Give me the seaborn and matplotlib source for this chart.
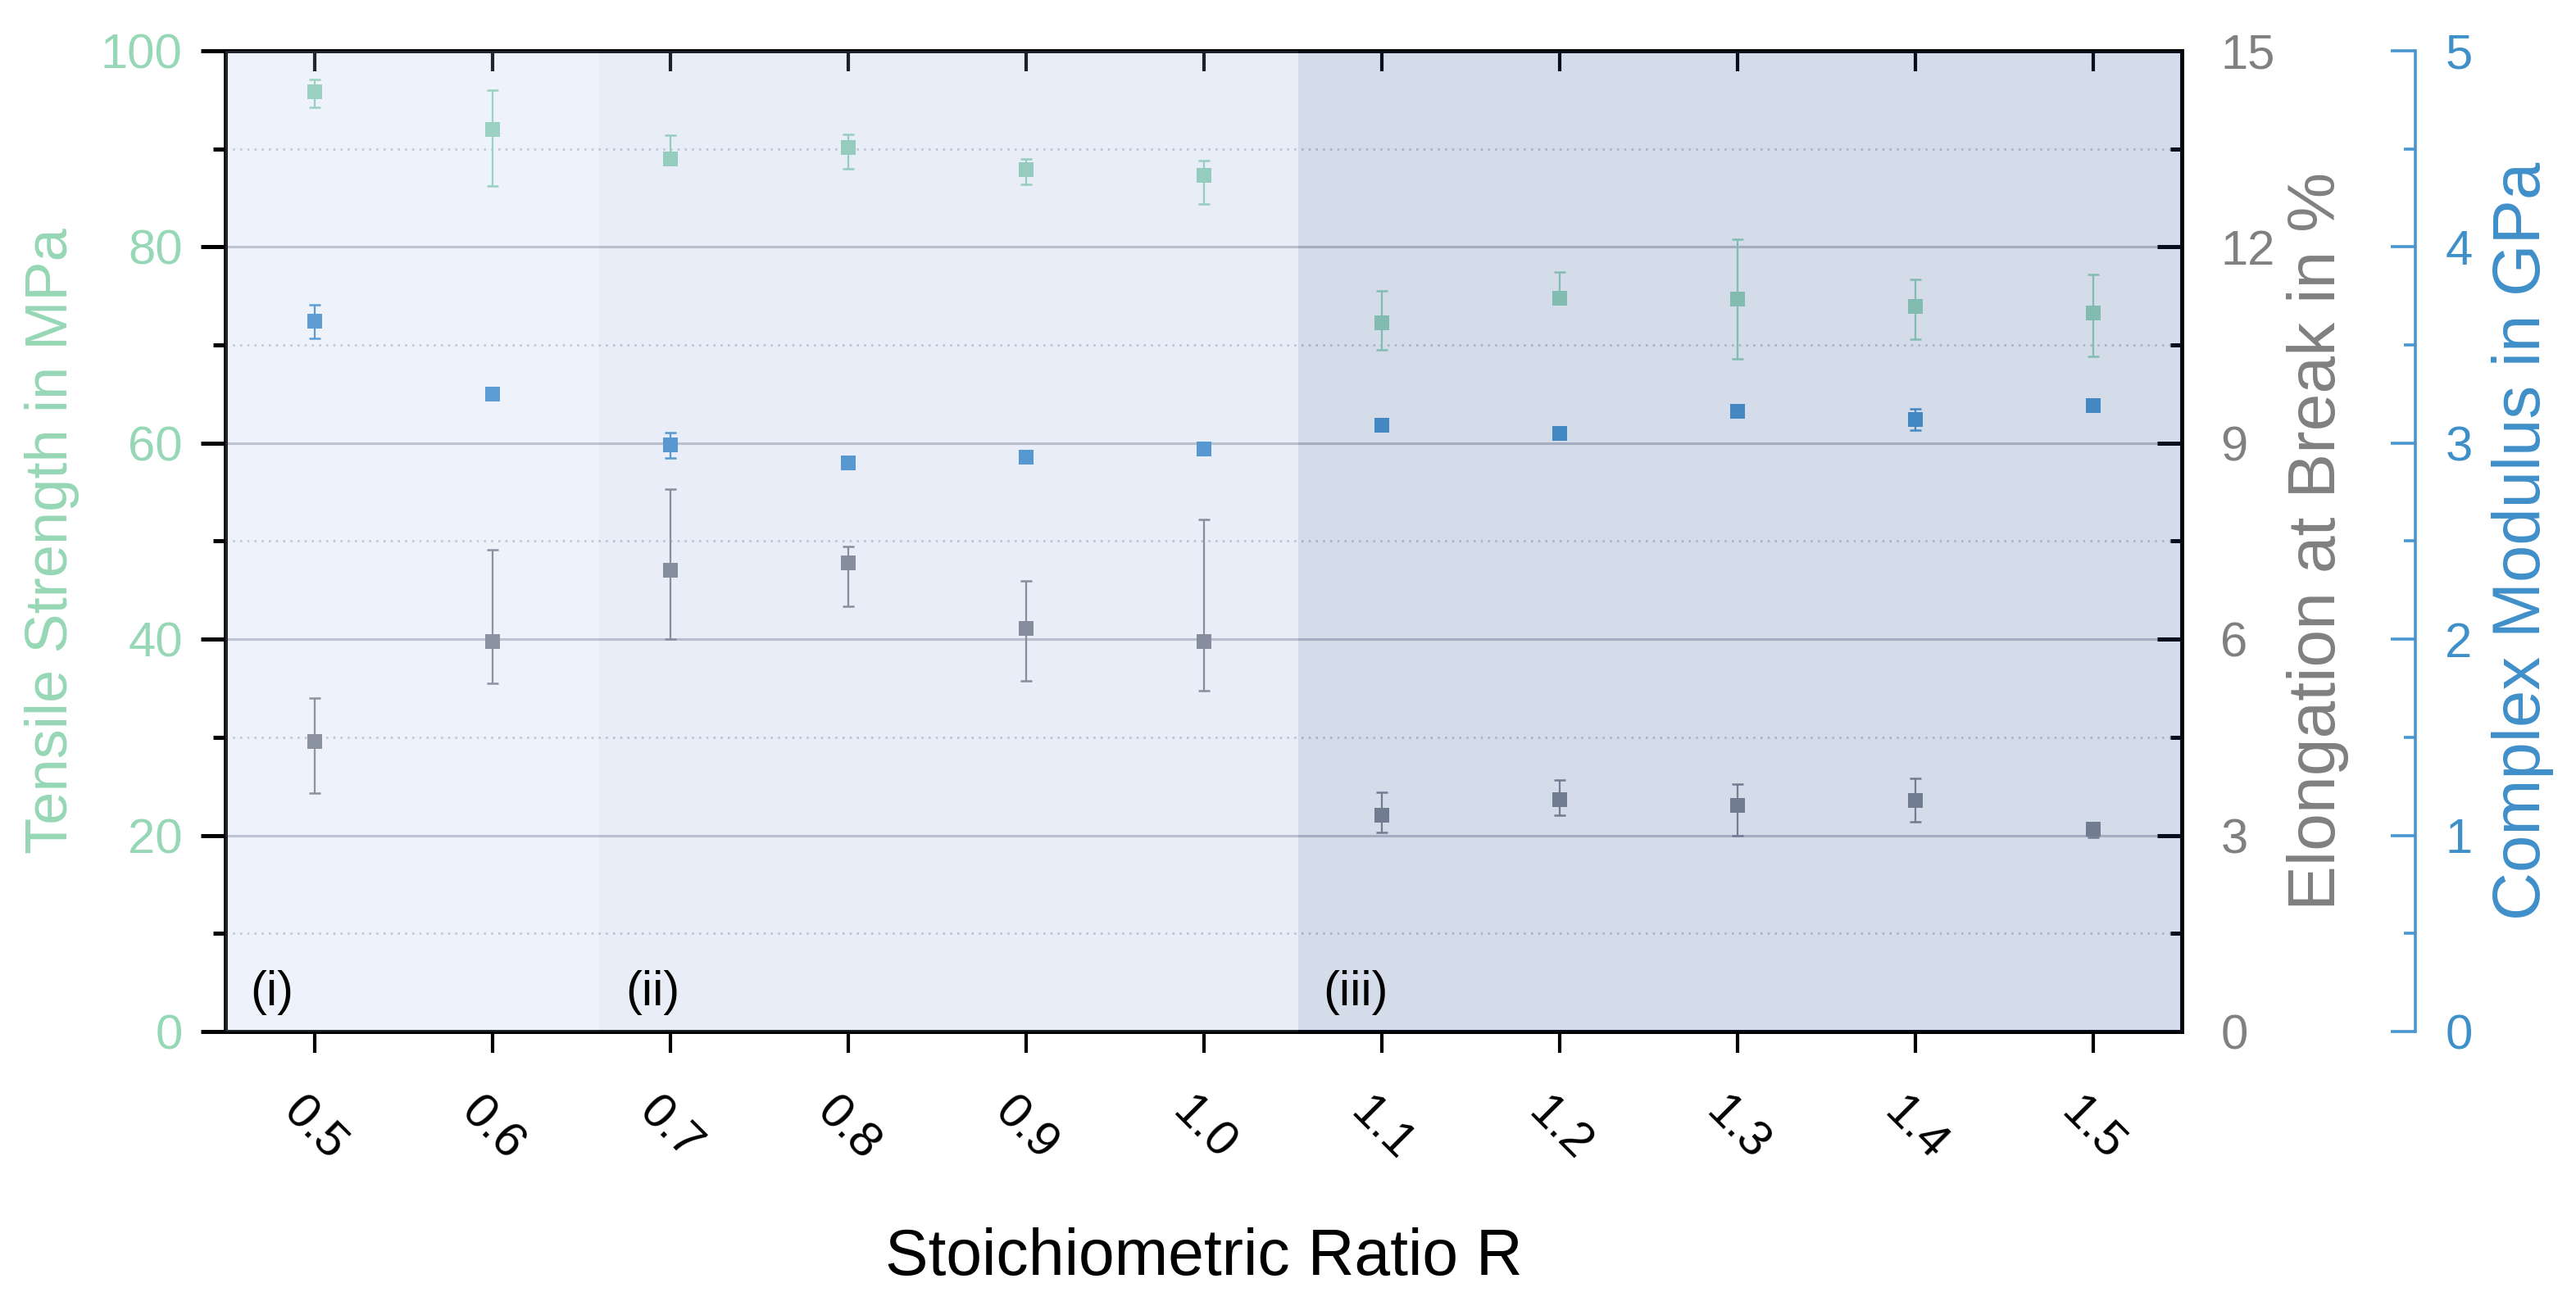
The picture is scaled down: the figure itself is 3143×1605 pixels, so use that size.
import matplotlib
matplotlib.use("Agg")
import matplotlib.pyplot as plt
import matplotlib.transforms as mtransforms
from matplotlib.ticker import MultipleLocator
import numpy as np
import pandas as pd
import seaborn as sns

# ---------------- data ----------------
ratio = [0.5, 0.6, 0.7, 0.8, 0.9, 1.0, 1.1, 1.2, 1.3, 1.4, 1.5]
ratio_labels = ["0.5", "0.6", "0.7", "0.8", "0.9", "1.0", "1.1", "1.2", "1.3", "1.4", "1.5"]

tensile = [95.8, 92.0, 89.0, 90.1, 87.9, 87.3, 72.3, 74.8, 74.7, 73.9, 73.3]
tensile_err_lo = [1.6, 5.8, 0.6, 2.1, 1.5, 2.9, 2.8, 0.5, 6.1, 3.3, 4.5]
tensile_err_hi = [1.3, 4.0, 2.4, 1.4, 1.1, 1.5, 3.2, 2.6, 6.1, 2.8, 3.9]

elongation = [4.44, 5.96, 7.05, 7.17, 6.17, 5.97, 3.31, 3.55, 3.46, 3.53, 3.10]
elong_err_lo = [0.79, 0.63, 1.05, 0.67, 0.81, 0.76, 0.26, 0.24, 0.46, 0.32, 0.13]
elong_err_hi = [0.66, 1.41, 1.25, 0.25, 0.72, 1.86, 0.35, 0.30, 0.32, 0.34, 0.0]

modulus = [3.62, 3.25, 2.99, 2.90, 2.93, 2.97, 3.09, 3.05, 3.16, 3.12, 3.19]
modulus_err = [0.085, 0.0, 0.065, 0.0, 0.0, 0.0, 0.0, 0.0, 0.0, 0.055, 0.0]

regions = [(0.40, 0.66), (0.66, 1.053), (1.053, 1.60)]
region_names = ["(i)", "(ii)", "(iii)"]
region_label_x = [0.464, 0.675, 1.067]

# ---------------- style ----------------
sns.set_theme(style="ticks")
plt.rcParams["font.family"] = ["Liberation Sans", "DejaVu Sans"]
plt.rcParams["axes.unicode_minus"] = False

GREEN = "#98d6b8"
GREEN_TXT = "#96d7b5"
GRAY = "#848891"
GRAY_TXT = "#808080"
BLUE = "#4a96d0"
BLUE_TXT = "#3f8fc9"
region_colors = [(170/255, 190/255, 230/255), (140/255, 165/255, 215/255), (45/255, 80/255, 145/255)]

df = pd.DataFrame({"R": ratio, "tensile": tensile, "elong": elongation, "mod": modulus})

fig = plt.figure(figsize=(15.715, 8.025), dpi=200)
ax = fig.add_axes([0.0875, 0.2156, 0.7595, 0.7458])
ax2 = ax.twinx()
ax3 = ax.twinx()
ax.set_facecolor("white")

# grid
ax.set_axisbelow(True)
ax.yaxis.set_minor_locator(MultipleLocator(10))
ax.grid(which="major", axis="y", color="#c3c6ce", lw=1.1, ls="-")
ax.grid(which="minor", axis="y", color="#c4c7cf", lw=0.9, ls=(0, (1, 2.5)))
ax.grid(which="both", axis="x", visible=False)

ekw = dict(fmt="none", elinewidth=0.8, capsize=2.6, capthick=0.9)

# tensile strength (left axis)
ax.errorbar(ratio, tensile, yerr=[tensile_err_lo, tensile_err_hi], ecolor=GREEN, zorder=3, **ekw)
sns.scatterplot(data=df, x="R", y="tensile", marker="s", s=42, color=GREEN, linewidth=0, ax=ax, zorder=4)

# elongation (gray axis)
ax2.errorbar(ratio, elongation, yerr=[elong_err_lo, elong_err_hi], ecolor=GRAY, zorder=3, **ekw)
sns.scatterplot(data=df, x="R", y="elong", marker="s", s=42, color=GRAY, linewidth=0, ax=ax2, zorder=4)

# modulus (blue axis)
ax3.errorbar(ratio, modulus, yerr=modulus_err, ecolor=BLUE, zorder=3, **ekw)
sns.scatterplot(data=df, x="R", y="mod", marker="s", s=42, color=BLUE, linewidth=0, ax=ax3, zorder=4)

# region overlays + labels
blend = mtransforms.blended_transform_factory(ax3.transData, ax3.transAxes)
for (x0, x1), c in zip(regions, region_colors):
    ax3.axvspan(x0, x1, color=c, alpha=0.2, lw=0, zorder=10)
for xl, name in zip(region_label_x, region_names):
    ax3.text(xl, 0.04, name, transform=blend, fontsize=21.5, ha="left", va="center",
             color="black", zorder=20)

# limits
ax.set_xlim(0.45, 1.55)
ax.set_ylim(0, 100)
ax2.set_ylim(0, 15)
ax3.set_ylim(0, 5)

# x axis
ax.set_xticks(ratio)
ax.set_xticklabels(ratio_labels, rotation=-45)
ax.tick_params(axis="x", which="major", direction="out", length=9.4, width=1.5, color="black",
               labelsize=21.5, labelcolor="black", pad=16, bottom=True, top=False)
sec = ax.secondary_xaxis("top")
sec.set_xticks(ratio)
sec.tick_params(axis="x", direction="in", length=9, width=1.5, color="black", labeltop=False)
sec.spines["top"].set_linewidth(1.8)
sec.spines["top"].set_color("black")

# left axis
ax.set_yticks([0, 20, 40, 60, 80, 100])
ax.tick_params(axis="y", which="major", direction="out", length=10.8, width=1.8, color="black",
               labelsize=21.5, labelcolor=GREEN_TXT, pad=8.0, left=True, right=False)
ax.tick_params(axis="y", which="minor", direction="out", length=5.4, width=1.8, color="black",
               left=True, right=False)

# gray axis
ax2.set_yticks([0, 3, 6, 9, 12, 15])
ax2.yaxis.set_minor_locator(MultipleLocator(1.5))
ax2.tick_params(axis="y", which="major", direction="in", length=10.8, width=1.8, color="black",
                labelsize=21.5, labelcolor=GRAY_TXT, pad=17)
ax2.tick_params(axis="y", which="minor", direction="in", length=5.0, width=1.8, color="black")

# blue axis
ax3.set_yticks([0, 1, 2, 3, 4, 5])
ax3.yaxis.set_minor_locator(MultipleLocator(0.5))
ax3.spines["right"].set_position(("axes", 1.1194))
ax3.tick_params(axis="y", which="major", direction="in", length=10.8, width=1.3, color=BLUE,
                labelsize=21.5, labelcolor=BLUE_TXT, pad=13)
ax3.tick_params(axis="y", which="minor", direction="in", length=5.0, width=1.3, color=BLUE)

# spines
for s in ["left", "top", "bottom"]:
    ax.spines[s].set_visible(True)
    ax.spines[s].set_color("black")
    ax.spines[s].set_linewidth(1.8)
ax.spines["right"].set_visible(False)
for s in ["left", "top", "bottom"]:
    ax2.spines[s].set_visible(False)
    ax3.spines[s].set_visible(False)
ax2.spines["right"].set_visible(True)
ax2.spines["right"].set_color("black")
ax2.spines["right"].set_linewidth(1.8)
ax3.spines["right"].set_visible(True)
ax3.spines["right"].set_color(BLUE)
ax3.spines["right"].set_linewidth(1.3)

# labels
ax.set_xlabel("Stoichiometric Ratio R", fontsize=28.3, color="black")
ax.xaxis.set_label_coords(0.5, -0.1997)
ax.set_ylabel("Tensile Strength in MPa", fontsize=26, color=GREEN_TXT)
ax.yaxis.set_label_coords(-0.0745, 0.5)
ax2.set_ylabel("Elongation at Break in %", fontsize=29.6, color=GRAY_TXT)
ax2.yaxis.set_label_coords(1.0535, 0.5)
ax3.set_ylabel("Complex Modulus in GPa", fontsize=29.4, color=BLUE_TXT)
ax3.yaxis.set_label_coords(1.1585, 0.5)

fig.savefig("out.png", dpi=200)
